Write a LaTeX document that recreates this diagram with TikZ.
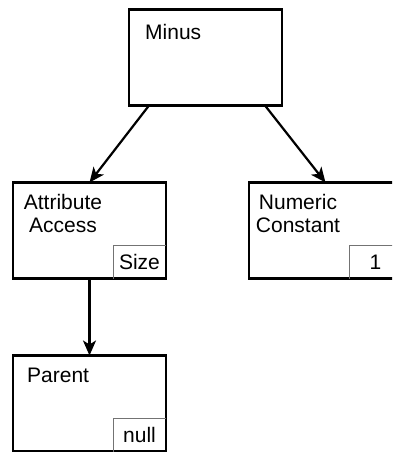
\documentclass[tikz,border=0pt]{standalone}
\usepackage{fontspec}
\setmainfont{Liberation Sans}
\usepackage{xcolor}
\usepackage{tikz}
\usetikzlibrary{arrows.meta, positioning, calc}
\tikzstyle{treenode} = [rectangle, minimum width=153pt, minimum height=96pt, inner sep=0pt, outer sep=0pt, draw=black, line width=2.2pt]
\tikzstyle{tag}      = [rectangle, minimum width=53pt, minimum height=33pt, inner sep=0pt, outer sep=0pt, anchor=south east]
\tikzstyle{tagline}  = [draw=black!55, line width=1pt]
\tikzstyle{caption}  = [inner sep=0pt, anchor=base west]
\tikzstyle{caption2} = [inner sep=0pt, anchor=base, align=center]
\tikzstyle{arrow}    = [line width=2.2pt, -{Stealth[length=15pt, width=13pt, inset=4pt]}]

\begin{document}
\begin{tikzpicture}[x=1pt, y=-1pt, font=\fontsize{21}{23}\selectfont, node distance=77pt]

\useasboundingbox (0,0) rectangle (392,452);
\clip (0,0) rectangle (392,452);

\node (minus) [treenode] at (205.5,57.5) {};
\node (access) [treenode] at (89.5,230.5) {};
\node (numeric) [treenode, right=83pt of access] {};
\node (parent) [treenode, below=of access] {};

% Node names
\node (minustxt) [caption] at ($(minus.north west)+(16,30)$) {Minus};
\node (accesstxt) [caption2] at ($(access.north west)+(50,50)$) {Attribute\\Access};
\node (numerictxt) [caption2] at ($(numeric.north west)+(49,50)$) {Numeric\\Constant};
\node (parenttxt) [caption] at ($(parent.north west)+(14,27)$) {Parent};

% Value tags in the corners
\node (sizetag) [tag] at (access.south east) {Size};
\node (onetag) [tag] at (numeric.south east) {1};
\node (nulltag) [tag] at (parent.south east) {null};
\draw [tagline] (sizetag.south west) |- (sizetag.north east);
\draw [tagline] (onetag.south west) |- (onetag.north east);
\draw [tagline] (nulltag.south west) |- (nulltag.north east);

% Edges
\draw [arrow] ([xshift=20pt]minus.south west) -- (access.north);
\draw [arrow] ([xshift=-17pt]minus.south east) -- (numeric.north);
\draw [arrow] (access.south) -- (parent.north);

\end{tikzpicture}
\end{document}
